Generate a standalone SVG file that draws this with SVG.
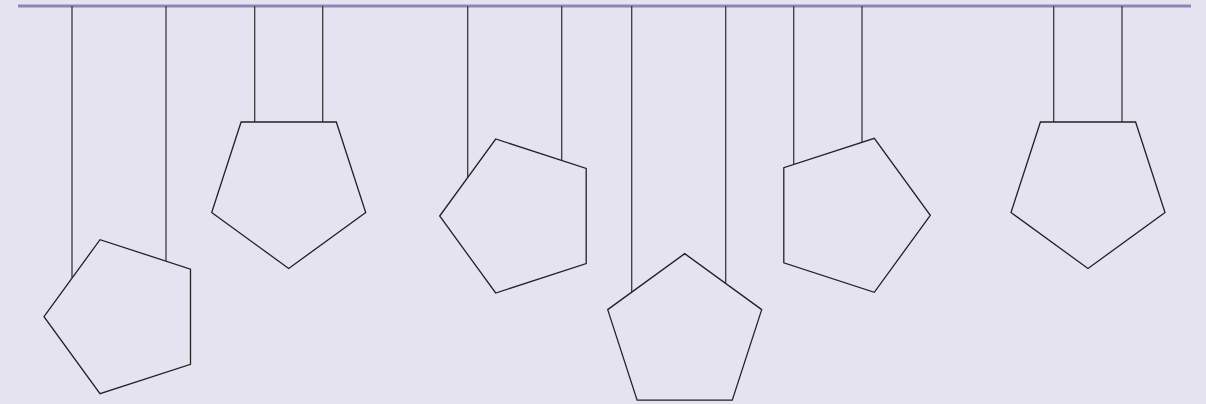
<svg xmlns="http://www.w3.org/2000/svg" width="1206" height="404" viewBox="0 0 1206 404">
<style>
.bg{fill:#e5e3ef}
.bar{stroke:#8b87b6;stroke-width:3;fill:none}
.str{stroke:#3a3a3a;stroke-width:1.3;fill:none}
.pent{fill:#e5e3ef;stroke:#222;stroke-width:1.3;stroke-linejoin:miter}
</style>
<rect class="bg" x="0" y="0" width="1206" height="404"/>
<line class="bar" x1="18" y1="6" x2="1191" y2="6"/>
<g id="connectors">
<line class="str" x1="72" y1="6" x2="72" y2="278"/>
<line class="str" x1="166" y1="6" x2="166" y2="261.5"/>
<line class="str" x1="254.7" y1="6" x2="254.7" y2="122"/>
<line class="str" x1="322.7" y1="6" x2="322.7" y2="122"/>
<line class="str" x1="467.7" y1="6" x2="467.7" y2="177.5"/>
<line class="str" x1="561.7" y1="6" x2="561.7" y2="160.7"/>
<line class="str" x1="631.7" y1="6" x2="631.7" y2="292"/>
<line class="str" x1="725.7" y1="6" x2="725.7" y2="283.3"/>
<line class="str" x1="793.7" y1="6" x2="793.7" y2="164.5"/>
<line class="str" x1="862" y1="6" x2="862" y2="142.2"/>
<line class="str" x1="1053.7" y1="6" x2="1053.7" y2="122"/>
<line class="str" x1="1122" y1="6" x2="1122" y2="122"/>
</g>
<g id="pentagon1"><polygon class="pent" points="44,316.7 100,239.7 190.5,269.1 190.5,364.3 100,393.7"/></g>
<g id="pentagon2"><polygon class="pent" points="241.1,122 336.3,122 365.7,212.5 288.7,268.5 211.7,212.5"/></g>
<g id="pentagon3"><polygon class="pent" points="439.7,216 495.7,139 586.2,168.4 586.2,263.6 495.7,293"/></g>
<g id="pentagon4"><polygon class="pent" points="684.7,253.6 761.7,309.6 732.3,400.1 637.1,400.1 607.7,309.6"/></g>
<g id="pentagon5"><polygon class="pent" points="930.3,215.3 874.3,292.3 783.8,262.9 783.8,167.7 874.3,138.3"/></g>
<g id="pentagon6"><polygon class="pent" points="1040.4,122 1135.6,122 1165,212.5 1088,268.5 1011,212.5"/></g>
</svg>
